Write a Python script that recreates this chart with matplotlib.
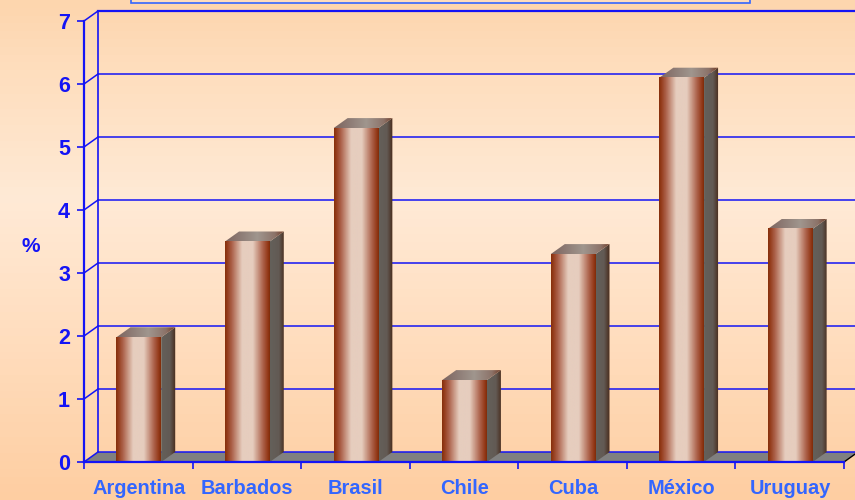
import numpy as np
import matplotlib
matplotlib.use("Agg")
import matplotlib.pyplot as plt
from matplotlib.patches import Polygon, Rectangle

plt.rcParams["font.family"] = ["Liberation Sans", "DejaVu Sans"]

categories = ["Argentina", "Barbados", "Brasil", "Chile", "Cuba", "México", "Uruguay"]
values = [1.98, 3.5, 5.3, 1.3, 3.3, 6.1, 3.7]
y_ticks = [0, 1, 2, 3, 4, 5, 6, 7]

BLUE = "#1414f5"
LABEL_BLUE = "#3366ff"
W, H = 855, 500

# fake 3D depth, in data units
depth_x = 14 / 108.5
depth_y = 10 / 63
bar_w = 0.412


def ramp(stops, colors, n=64):
    # colour ramp from a few stops
    t = np.linspace(0, 1, n)
    c = np.array(colors, dtype=float) / 255
    return np.stack([np.interp(t, stops, c[:, i]) for i in range(3)], axis=1)


fig = plt.figure(figsize=(W / 100, H / 100), dpi=100)

# background gradient
bg_ax = fig.add_axes([0, 0, 1, 1], zorder=0)
bg = ramp([0, 0.1, 0.4, 0.75, 1],
          [(253, 214, 174), (254, 220, 186), (255, 234, 214), (255, 218, 184), (254, 206, 162)])
bg_ax.imshow(bg[:, None, :], aspect="auto", extent=[0, 1, 0, 1], origin="upper")
bg_ax.axis("off")
# bottom of the title box cut by the top edge
bg_ax.add_patch(Rectangle((131 / W, 1 - 2.5 / H), 619 / W, 0.1, facecolor="#fddcbc",
                          edgecolor="#3366ff", linewidth=1.2, clip_on=True))
bg_ax.set_xlim(0, 1)
bg_ax.set_ylim(0, 1)

ax = fig.add_axes([84 / W, 1 - 462 / H, 760 / W, 441 / H], zorder=1)
ax.set_xlim(0, len(categories))
ax.set_ylim(0, 7)
ax.patch.set_alpha(0)
for s in ["top", "right"]:
    ax.spines[s].set_visible(False)
for s in ["left", "bottom"]:
    ax.spines[s].set_color(BLUE)
    ax.spines[s].set_linewidth(1.6)
    ax.spines[s].set_zorder(6)

n = len(categories)

# floor and walls
ax.add_patch(Polygon([(0, 0), (n, 0), (n + depth_x, depth_y), (depth_x, depth_y)],
                     facecolor="#808080", edgecolor="none", clip_on=False, zorder=1))
ax.plot([n, n + depth_x], [0, depth_y], color="black", lw=1, clip_on=False, zorder=1.5)
for v in y_ticks:
    ax.plot([depth_x, n + depth_x], [v + depth_y, v + depth_y], color=BLUE, lw=1.6 if v == 7 else 1.1,
            clip_on=False, zorder=1.2)
    ax.plot([0, depth_x], [v, v + depth_y], color=BLUE, lw=1.1, clip_on=False, zorder=1.2)
ax.plot([depth_x, depth_x], [depth_y, 7 + depth_y], color=BLUE, lw=1.2, clip_on=False, zorder=1.2)

# bar shading
front_ramp = ramp([0, 0.05, 0.15, 0.38, 0.62, 0.85, 0.95, 1],
                  [(135, 48, 12), (150, 62, 30), (172, 98, 75), (230, 205, 190),
                   (230, 205, 190), (172, 98, 75), (150, 60, 28), (130, 45, 10)])
side_ramp = ramp([0, 0.6, 1], [(100, 96, 90), (98, 90, 84), (72, 42, 26)])
top_ramp = ramp([0, 0.55, 0.85, 1], [(125, 100, 95), (160, 150, 142), (140, 115, 105), (115, 65, 45)])

for i, v in enumerate(values):
    x0 = i + 0.505 - bar_w / 2
    x1 = x0 + bar_w
    z = 2 + i * 0.1
    ax.imshow(front_ramp[None, :, :], aspect="auto", extent=[x0, x1, 0, v], zorder=z + 0.02)

    side = Polygon([(x1, 0), (x1 + depth_x, depth_y), (x1 + depth_x, v + depth_y), (x1, v)],
                   transform=ax.transData, facecolor="none", edgecolor="none")
    ax.add_patch(side)
    im = ax.imshow(side_ramp[None, :, :], aspect="auto", extent=[x1, x1 + depth_x, 0, v + depth_y],
                   zorder=z + 0.01, clip_on=True)
    im.set_clip_path(side)

    top = Polygon([(x0, v), (x1, v), (x1 + depth_x, v + depth_y), (x0 + depth_x, v + depth_y)],
                  transform=ax.transData, facecolor="none", edgecolor="none")
    ax.add_patch(top)
    im = ax.imshow(top_ramp[None, :, :], aspect="auto", extent=[x0, x1 + depth_x, v, v + depth_y],
                   zorder=z + 0.01, clip_on=True)
    im.set_clip_path(top)

ax.set_xlim(0, n)
ax.set_ylim(0, 7)

# ticks
ax.set_yticks(y_ticks)
ax.set_yticklabels([str(v) for v in y_ticks], fontsize=15.5, fontweight="bold", color=BLUE)
ax.tick_params(axis="y", length=5, width=1.2, color=BLUE, pad=5)
ax.set_xticks(range(n + 1))
ax.set_xticklabels([""] * (n + 1))
ax.tick_params(axis="x", length=5, width=1.2, color=BLUE)
for i, c in enumerate(categories):
    ax.annotate(c, (i + 0.5, 0), xytext=(0.5, -26), textcoords="offset pixels", ha="center", va="center",
                fontsize=14.4, fontweight="bold", color=LABEL_BLUE, annotation_clip=False)

fig.text(31 / W, 1 - 246 / H, "%", ha="center", va="center", fontsize=15, fontweight="bold", color=BLUE)

fig.savefig("out.png", dpi=100)
